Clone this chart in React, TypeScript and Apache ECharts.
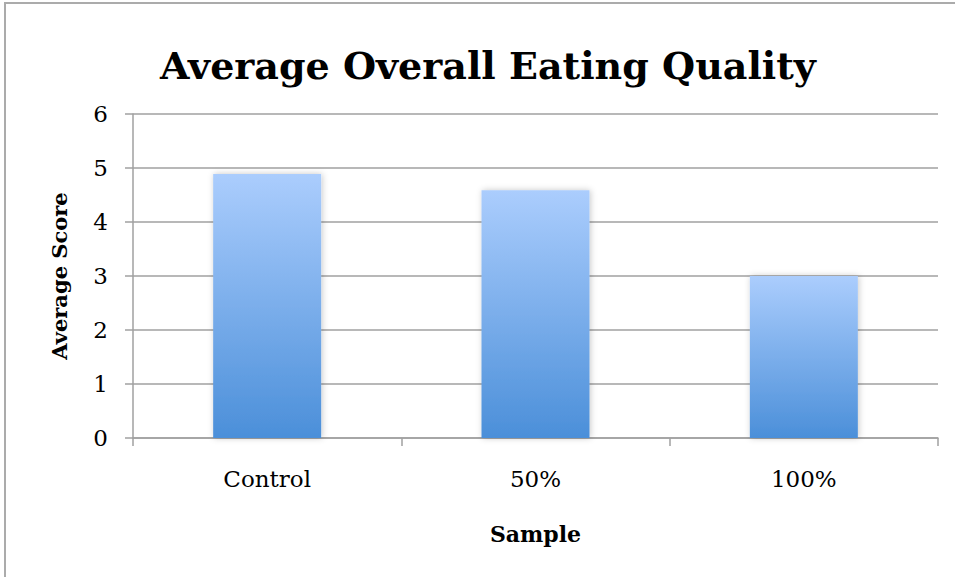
import React, { useEffect, useRef } from "react";
import * as echarts from "echarts";

const categories = ["Control", "50%", "100%"];
const averageScores = [4.89, 4.59, 3.0];
const yTicks = [0, 1, 2, 3, 4, 5, 6];

export default function App() {
  const ref = useRef<HTMLDivElement>(null);
  useEffect(() => {
    if (!ref.current) return;
    const chart = echarts.init(ref.current, null, { renderer: "svg" });
    const serif = "'DejaVu Serif', serif";
    chart.setOption({
      animation: false,
      backgroundColor: "#ffffff",
      title: {
        text: "Average Overall Eating Quality",
        left: 483,
        top: 41,
        textAlign: "center",
        textStyle: { fontFamily: serif, fontWeight: "bold", fontSize: 38, color: "#000" },
      },
      graphic: [
        {
          type: "rect",
          shape: { x: 5, y: 3, width: 1200, height: 1200 },
          style: { fill: "none", stroke: "#ababab", lineWidth: 2 },
          silent: true,
        },
      ],
      grid: { left: 133, right: 17, top: 114, bottom: 139 },
      xAxis: {
        type: "category",
        data: categories,
        name: "Sample",
        nameLocation: "middle",
        nameGap: 85,
        nameTextStyle: { fontFamily: serif, fontWeight: "bold", fontSize: 22, color: "#000" },
        axisLine: { lineStyle: { color: "#a0a0a0", width: 1.5 } },
        axisTick: { show: true, length: 8, alignWithLabel: false, lineStyle: { color: "#a0a0a0", width: 1.5 } },
        axisLabel: { margin: 29, fontFamily: serif, fontSize: 23, color: "#000" },
      },
      yAxis: {
        type: "value",
        min: yTicks[0],
        max: yTicks[yTicks.length - 1],
        interval: 1,
        name: "Average Score",
        nameLocation: "middle",
        nameGap: 63,
        nameRotate: 90,
        nameTextStyle: { fontFamily: serif, fontWeight: "bold", fontSize: 21, color: "#000" },
        axisLine: { show: true, lineStyle: { color: "#a0a0a0", width: 1.5 } },
        axisTick: { show: true, length: 8, lineStyle: { color: "#a0a0a0", width: 1.5 } },
        axisLabel: { margin: 25, fontFamily: serif, fontSize: 23, color: "#000" },
        splitLine: { show: true, lineStyle: { color: "#a0a0a0", width: 1.5 } },
      },
      series: [
        {
          type: "bar",
          data: averageScores,
          barWidth: 108,
          itemStyle: {
            color: new echarts.graphic.LinearGradient(0, 0, 0, 1, [
              { offset: 0, color: "#abcdfd" },
              { offset: 1, color: "#4b8fd9" },
            ]),
            shadowBlur: 6,
            shadowColor: "rgba(0,0,0,0.22)",
            shadowOffsetX: 1,
          },
        },
      ],
    });
    return () => chart.dispose();
  }, []);
  return (
    <div
      ref={ref}
      style={{ position: "fixed", left: 0, top: 0, width: 955, height: 577 }}
    />
  );
}
